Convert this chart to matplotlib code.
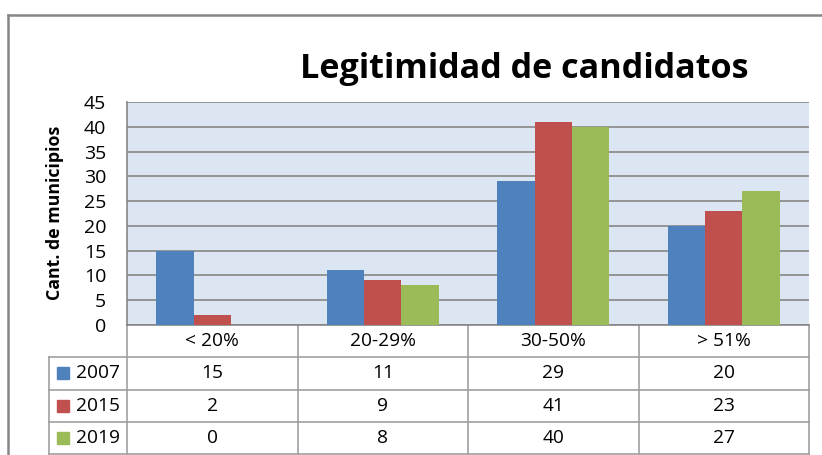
import matplotlib.pyplot as plt
from matplotlib.lines import Line2D
from matplotlib.patches import Rectangle
import numpy as np

# data values
categories = ["< 20%", "20-29%", "30-50%", "> 51%"]
years = ["2007", "2015", "2019"]
v2007 = [15, 11, 29, 20]
v2015 = [2, 9, 41, 23]
v2019 = [0, 8, 40, 27]
series = [v2007, v2015, v2019]
colors = ["#4F81BD", "#C0504D", "#9BBB59"]

plt.rcParams['font.family'] = ['Open Sans', 'DejaVu Sans']

W, H = 822, 455
fig = plt.figure(figsize=(W / 100, H / 100), dpi=100)

# outer chart border
fig.add_artist(Line2D([8 / W, 8 / W], [0, 1 - 15 / H], color="#868686", lw=1.8, transform=fig.transFigure))
fig.add_artist(Line2D([8 / W, 1], [1 - 15 / H, 1 - 15 / H], color="#868686", lw=1.8, transform=fig.transFigure))

ax_l, ax_r, ax_t, ax_b = 127, 809, 102, 325
ax = fig.add_axes([ax_l / W, 1 - ax_b / H, (ax_r - ax_l) / W, (ax_b - ax_t) / H])
ax.set_facecolor("#DCE6F2")

x = np.arange(len(categories))
bw = 0.218
for i, (vals, c) in enumerate(zip(series, colors)):
    ax.bar(x + (i - 1) * bw, vals, bw, color=c, zorder=3)

ax.set_xlim(-0.5, len(categories) - 0.5)
ax.set_ylim(0, 45)
ax.set_yticks(range(0, 46, 5))
ax.yaxis.grid(True, color="#868686", lw=1.2, zorder=1)
ax.set_axisbelow(True)
ax.set_xticks([])
ax.tick_params(axis="y", length=0, pad=15, labelsize=14)
for s in ["top", "right", "bottom"]:
    ax.spines[s].set_visible(False)
ax.spines["left"].set_color("#868686")
ax.spines["left"].set_linewidth(1.2)

fig.text(524.5 / W, 1 - 78.3 / H, "Legitimidad de candidatos", ha="center", va="baseline",
         fontsize=24.6, fontweight="bold")
fig.text(55 / W, 1 - 213 / H, "Cant. de municipios", rotation=90, ha="center", va="center",
         fontsize=12.8, fontweight="bold")

# data table below the axes
ppu = (ax_r - ax_l) / len(categories)
row_h = 32.3
tab_left = 49
gc = "#A0A0A0"
tr = ax.get_xaxis_transform()
ah = ax_b - ax_t
fs = 13.8

def yax(py):
    return (ax_b - py) / ah

def xd(px):
    return -0.5 + (px - ax_l) / ppu

# category row
y0 = ax_b
for k in range(len(categories) + 1):
    ax.plot([k - 0.5, k - 0.5], [yax(y0), yax(ax_b + 4 * row_h)], color=gc, lw=1.2,
            transform=tr, clip_on=False)
for j, cat in enumerate(categories):
    ax.text(j, yax(y0 + row_h / 2), cat, ha="center", va="center", fontsize=fs,
            transform=tr, clip_on=False)
ax.plot([-0.5, len(categories) - 0.5], [yax(ax_b), yax(ax_b)], color="#868686", lw=1.2,
        transform=tr, clip_on=False)
# series rows
for r in range(1, 5):
    yl = ax_b + r * row_h
    ax.plot([xd(tab_left), len(categories) - 0.5], [yax(yl), yax(yl)], color=gc, lw=1.2,
            transform=tr, clip_on=False)
ax.plot([xd(tab_left), xd(tab_left)], [yax(ax_b + row_h), yax(ax_b + 4 * row_h)], color=gc,
        lw=1.2, transform=tr, clip_on=False)
for i, (yr, vals, c) in enumerate(zip(years, series, colors)):
    yc = ax_b + (i + 1.5) * row_h
    ax.add_patch(Rectangle((xd(57), yax(yc + 6)), 12 / ppu, 12 / ah, color=c,
                           transform=tr, clip_on=False))
    ax.text(xd(76), yax(yc), yr, ha="left", va="center", fontsize=fs,
            transform=tr, clip_on=False)
    for j, v in enumerate(vals):
        ax.text(j, yax(yc), str(v), ha="center", va="center", fontsize=fs,
                transform=tr, clip_on=False)

fig.savefig("out.png", dpi=100)
